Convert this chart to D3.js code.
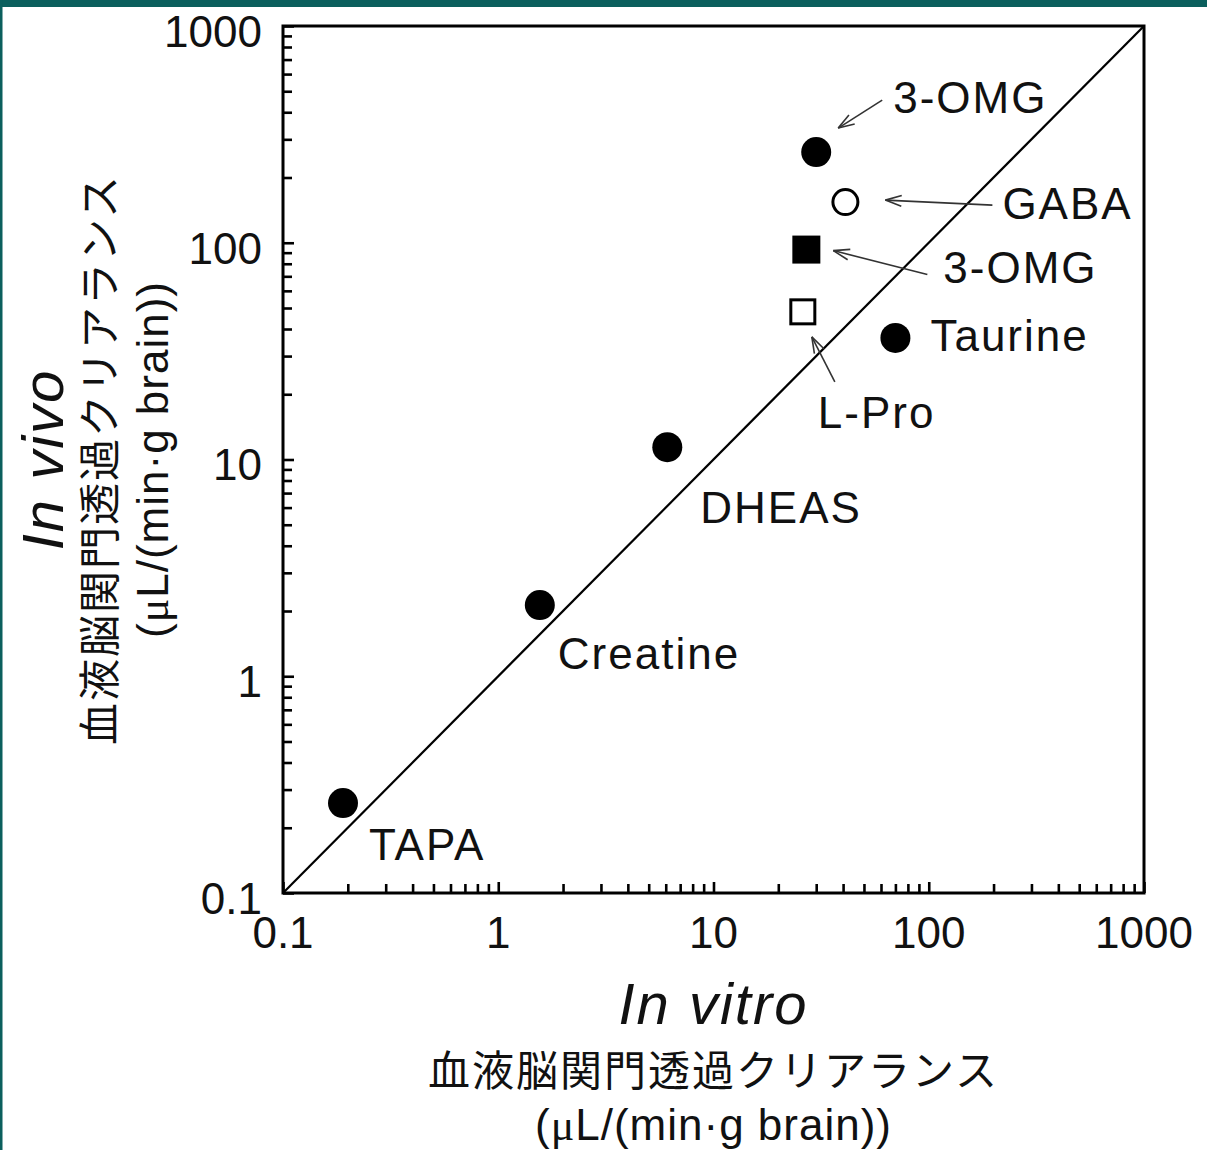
<!DOCTYPE html>
<html><head><meta charset="utf-8">
<script src="https://cdn.jsdelivr.net/npm/d3@7/dist/d3.min.js"></script>
<style>
body{margin:0;background:#fff;}
svg{display:block;}
text{font-family:"Liberation Sans",Arial,Helvetica,sans-serif;fill:#111;}
</style>
</head><body>
<svg id="chart" width="1207" height="1150"></svg>
<script>
// ---------- data ----------
const compounds = ["TAPA", "Creatine", "DHEAS", "Taurine", "3-OMG", "GABA", "3-OMG", "L-Pro"];
const inVitro   = [0.19, 1.56, 6.1, 70, 30, 41, 27, 26];
const inVivo    = [0.26, 2.13, 11.4, 36.4, 262, 154, 93, 48];
const markers   = ["dot", "dot", "dot", "dot", "dot", "ring", "box", "openBox"];
const xTickValues = [0.1, 1, 10, 100, 1000];
const xTickLabels = ["0.1", "1", "10", "100", "1000"];
const yTickValues = [0.1, 1, 10, 100, 1000];
const yTickLabels = ["0.1", "1", "10", "100", "1000"];
const identityLine = [0.1, 1000];

// ---------- layout (pixel offsets of labels / arrows relative to each point) ----------
const labelLayout = [
  {dx: 26, dy: 41},
  {dx: 18, dy: 48},
  {dx: 33, dy: 60},
  {dx: 35, dy: -3},
  {dx: 77, dy: -55, tail: [66, -52], tip: [22, -24]},
  {dx: 157, dy: 1, tail: [147, 3], tip: [40, -2]},
  {dx: 137, dy: 18, tail: [121, 25], tip: [27, 1]},
  {dx: 15, dy: 100, tail: [32, 70], tip: [9, 25]}
];

const W = 1207, H = 1150;
const m = {left: 283, right: 1144, top: 26, bottom: 893};
const svg = d3.select("#chart");

// frame
svg.append("rect").attr("x", 0).attr("y", 0).attr("width", W).attr("height", H).attr("fill", "#fff");
svg.append("rect").attr("x", 0).attr("y", 0).attr("width", W).attr("height", 7).attr("fill", "#0b5f5d");
svg.append("rect").attr("x", 0).attr("y", 0).attr("width", 2.5).attr("height", H).attr("fill", "#0b5f5d");

const x = d3.scaleLog().domain([0.1, 1000]).range([m.left, m.right]);
const y = d3.scaleLog().domain([0.1, 1000]).range([m.bottom, m.top]);

// minor + major ticks (inward)
function allTicks() {
  const t = [];
  for (let e = -1; e < 3; e++) for (let k = 1; k <= 9; k++) t.push(k * Math.pow(10, e));
  t.push(1000);
  return t;
}
const ticks = allTicks();
const isMajor = v => Math.abs(Math.log10(v) - Math.round(Math.log10(v))) < 1e-9;

const xAxis = d3.axisBottom(x).tickValues(ticks).tickFormat("").tickSizeOuter(0)
  .tickSizeInner(-10);
const gx = svg.append("g").attr("transform", `translate(0,${m.bottom})`).call(xAxis);
gx.select(".domain").remove();
gx.selectAll(".tick line").attr("stroke", "#000").attr("stroke-width", 2.6)
  .attr("y2", d => isMajor(d) ? -11 : -9);

const yAxis = d3.axisLeft(y).tickValues(ticks).tickFormat("").tickSizeOuter(0)
  .tickSizeInner(-10);
const gy = svg.append("g").attr("transform", `translate(${m.left},0)`).call(yAxis);
gy.select(".domain").remove();
gy.selectAll(".tick line").attr("stroke", "#000").attr("stroke-width", 2.6)
  .attr("x2", d => isMajor(d) ? 11 : 9);

// tick labels
svg.append("g").selectAll("text").data(xTickValues).join("text")
  .attr("x", d => x(d)).attr("y", 932).attr("dy", "0.36em")
  .attr("text-anchor", "middle").attr("font-size", 44)
  .text((d, i) => xTickLabels[i]);
svg.append("g").selectAll("text").data(yTickValues).join("text")
  .attr("x", m.left - 21).attr("y", d => y(d) + 5).attr("dy", "0.36em")
  .attr("text-anchor", "end").attr("font-size", 44)
  .text((d, i) => yTickLabels[i]);

// plot frame
svg.append("rect").attr("x", m.left).attr("y", m.top)
  .attr("width", m.right - m.left).attr("height", m.bottom - m.top)
  .attr("fill", "none").attr("stroke", "#000").attr("stroke-width", 3);

// identity line
svg.append("line")
  .attr("x1", x(identityLine[0])).attr("y1", y(identityLine[0]))
  .attr("x2", x(identityLine[1])).attr("y2", y(identityLine[1]))
  .attr("stroke", "#000").attr("stroke-width", 2.2);

// points
const pts = compounds.map((c, i) => ({name: c, vx: inVitro[i], vy: inVivo[i], mk: markers[i], lay: labelLayout[i]}));
const gp = svg.append("g");
pts.forEach(p => {
  const cx = x(p.vx), cy = y(p.vy);
  if (p.mk === "dot") gp.append("circle").attr("cx", cx).attr("cy", cy).attr("r", 15).attr("fill", "#000");
  else if (p.mk === "ring") gp.append("circle").attr("cx", cx).attr("cy", cy).attr("r", 12.5).attr("fill", "#fff").attr("stroke", "#000").attr("stroke-width", 3);
  else if (p.mk === "box") gp.append("rect").attr("x", cx - 14).attr("y", cy - 14).attr("width", 28).attr("height", 28).attr("fill", "#000");
  else gp.append("rect").attr("x", cx - 12).attr("y", cy - 12).attr("width", 24).attr("height", 24).attr("fill", "#fff").attr("stroke", "#000").attr("stroke-width", 3);
});

// labels & arrows
function arrow(x1, y1, x2, y2) {
  gp.append("line").attr("x1", x1).attr("y1", y1).attr("x2", x2).attr("y2", y2)
    .attr("stroke", "#333").attr("stroke-width", 1.6);
  const a = Math.atan2(y2 - y1, x2 - x1), L = 17, h = 0.32;
  [a + Math.PI - h, a + Math.PI + h].forEach(b => {
    gp.append("line").attr("x1", x2).attr("y1", y2)
      .attr("x2", x2 + L * Math.cos(b)).attr("y2", y2 + L * Math.sin(b))
      .attr("stroke", "#333").attr("stroke-width", 1.6);
  });
}
pts.forEach(p => {
  const cx = x(p.vx), cy = y(p.vy), l = p.lay;
  gp.append("text").attr("x", cx + l.dx).attr("y", cy + l.dy).attr("dy", "0.36em")
    .attr("font-size", 44).attr("letter-spacing", 2).text(p.name);
  if (l.tail) arrow(cx + l.tail[0], cy + l.tail[1], cx + l.tip[0], cy + l.tip[1]);
});

// axis titles
const midX = (m.left + m.right) / 2, midY = (m.top + m.bottom) / 2;
svg.append("text").attr("x", midX).attr("y", 1003).attr("dy", "0.36em")
  .attr("text-anchor", "middle").attr("font-size", 58).attr("letter-spacing", 2)
  .attr("font-style", "italic").text("In vitro");
svg.append("text").attr("x", midX).attr("y", 1071).attr("dy", "0.36em")
  .attr("text-anchor", "middle").attr("font-size", 42).attr("letter-spacing", 2)
  .style("font-family", "'Noto Sans CJK JP', sans-serif").text("血液脳関門透過クリアランス");
const u1 = svg.append("text").attr("x", midX).attr("y", 1124).attr("dy", "0.36em")
  .attr("text-anchor", "middle").attr("font-size", 44).attr("letter-spacing", 1);
u1.append("tspan").text("(");
u1.append("tspan").style("font-family", "'Liberation Serif', serif").text("μ");
u1.append("tspan").text("L/(min·g brain))");

const gyt = svg.append("g").attr("transform", `translate(0,${midY}) rotate(-90)`);
gyt.append("text").attr("x", 0).attr("y", 42).attr("dy", "0.36em")
  .attr("text-anchor", "middle").attr("font-size", 58).attr("letter-spacing", 2)
  .attr("font-style", "italic").text("In vivo");
gyt.append("text").attr("x", 0).attr("y", 100).attr("dy", "0.36em")
  .attr("text-anchor", "middle").attr("font-size", 42).attr("letter-spacing", 2)
  .style("font-family", "'Noto Sans CJK JP', sans-serif").text("血液脳関門透過クリアランス");
const u2 = gyt.append("text").attr("x", 0).attr("y", 152).attr("dy", "0.36em")
  .attr("text-anchor", "middle").attr("font-size", 44).attr("letter-spacing", 1);
u2.append("tspan").text("(");
u2.append("tspan").style("font-family", "'Liberation Serif', serif").text("μ");
u2.append("tspan").text("L/(min·g brain))");
</script>
</body></html>
